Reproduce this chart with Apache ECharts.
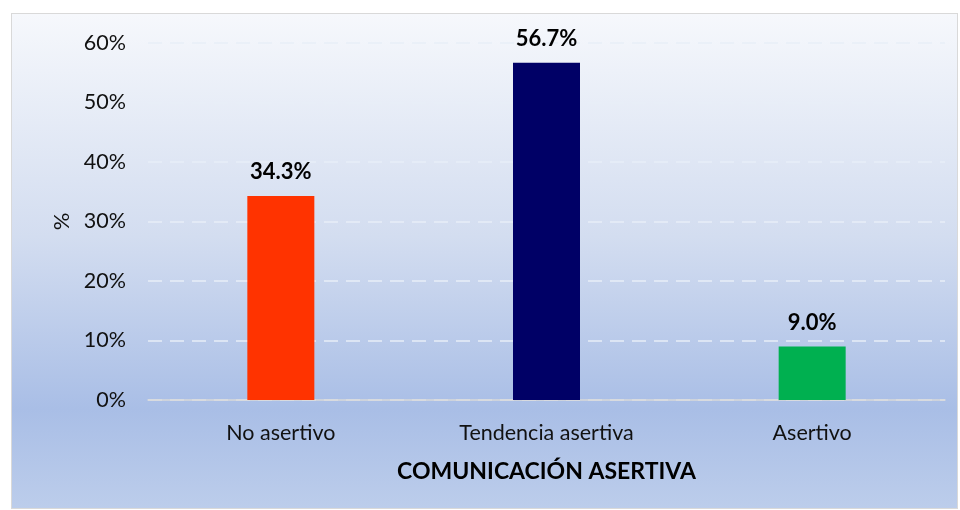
<!DOCTYPE html>
<html>
<head>
<meta charset="utf-8">
<script src="https://cdn.jsdelivr.net/npm/echarts@6/dist/echarts.min.js"></script>
<style>
  html, body { margin: 0; padding: 0; background: #ffffff; }
  #frame {
    position: absolute; left: 11px; top: 13px; width: 945px; height: 494px;
    border: 1px solid #d9d9d9;
    background: linear-gradient(to bottom, #f6f8fc 0%, #d3ddf0 45%, #a9bee6 80%, #bccdeb 100%);
  }
  #main { position: absolute; left: 0; top: 0; width: 960px; height: 510px; }
</style>
</head>
<body>
<div id="frame"></div>
<div id="main"></div>
<script>
  // datos del grafico
  var categories = ['No asertivo', 'Tendencia asertiva', 'Asertivo'];
  var values = [34.3, 56.7, 9.0];
  var barColors = ['#ff3300', '#000066', '#00b050'];

  var myChart = echarts.init(document.getElementById('main'));
  var font = 'Lato, "Open Sans", sans-serif';

  myChart.setOption({
    backgroundColor: 'transparent',
    textStyle: { fontFamily: font },
    grid: { left: 148, right: 15, top: 43, bottom: 110 },
    xAxis: {
      type: 'category',
      data: categories,
      name: 'COMUNICACIÓN ASERTIVA',
      nameLocation: 'middle',
      nameGap: 60,
      nameTextStyle: { fontSize: 23, fontWeight: 'bold', color: '#000', fontFamily: font },
      axisLine: { lineStyle: { color: '#d9d9d9', width: 1.5 } },
      axisTick: { show: false },
      axisLabel: { fontSize: 21.5, color: '#111', margin: 22, fontFamily: font }
    },
    yAxis: {
      type: 'value',
      min: 0,
      max: 60,
      interval: 10,
      name: '%',
      nameLocation: 'middle',
      nameGap: 75,
      nameRotate: 90,
      nameTextStyle: { fontSize: 22, color: '#111', fontFamily: font },
      axisLine: { show: false },
      axisTick: { show: false },
      axisLabel: { fontSize: 21.5, color: '#111', margin: 22, formatter: '{value}%', fontFamily: font },
      splitLine: { lineStyle: { color: '#e8eef8', type: [14, 8], width: 1.5 } }
    },
    series: [{
      type: 'bar',
      barWidth: 67,
      data: values.map(function (v, i) {
        return { value: v, itemStyle: { color: barColors[i] } };
      }),
      label: {
        show: true,
        position: 'top',
        distance: 13,
        fontSize: 22,
        fontWeight: 'bold',
        color: '#000',
        fontFamily: font,
        formatter: function (p) { return p.value.toFixed(1) + '%'; }
      }
    }]
  });
</script>
</body>
</html>
